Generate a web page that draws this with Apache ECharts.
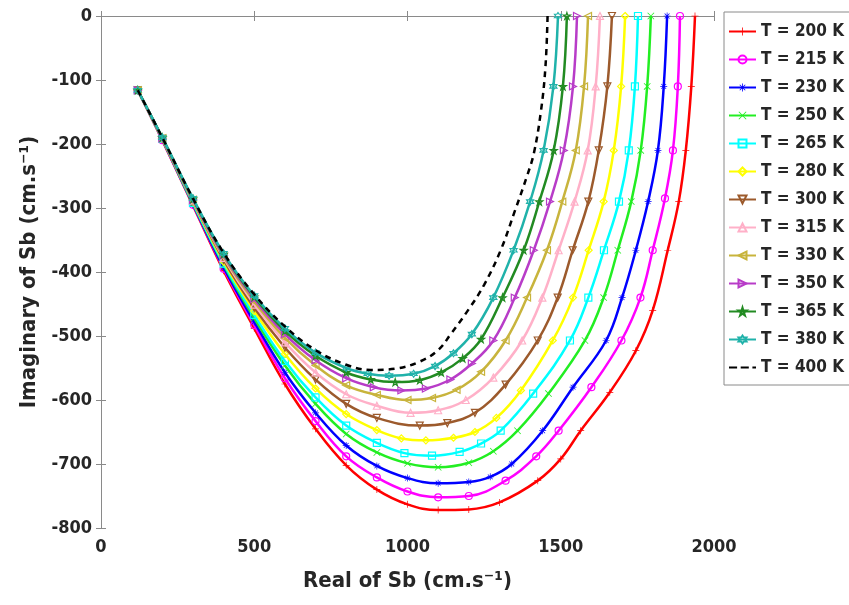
<!DOCTYPE html>
<html><head><meta charset="utf-8">
<script src="https://cdn.jsdelivr.net/npm/echarts@6/dist/echarts.min.js"></script>
<style>html,body{margin:0;padding:0;background:#fff}#c{width:849px;height:605px}</style>
</head><body><div id="c"></div>
<script>
// ---- data ----
const seriesNames = ['T = 200 K','T = 215 K','T = 230 K','T = 250 K','T = 265 K','T = 280 K','T = 300 K','T = 315 K','T = 330 K','T = 350 K','T = 365 K','T = 380 K','T = 400 K'];
const xTicks = [0, 500, 1000, 1500, 2000];
const yTicks = [0, -100, -200, -300, -400, -500, -600, -700, -800];

const t200 = [[120,-116],[200,-194],[300,-296],[400,-398],[500,-488],[600,-575],[700,-645],[800,-702],[900,-740],[1000,-763],[1100,-772],[1200,-771],[1300,-760],[1425,-726],[1500,-692],[1565,-648],[1660,-588],[1745,-523],[1800,-460],[1849,-366],[1885,-290],[1908,-210],[1926,-110],[1938,0]];
const t215 = [[120,-116],[200,-194],[300,-295],[400,-395],[500,-483],[600,-566],[700,-633],[800,-688],[900,-721],[1000,-743],[1100,-752],[1200,-750],[1320,-726],[1420,-688],[1493,-648],[1600,-580],[1698,-507],[1760,-440],[1800,-366],[1840,-285],[1866,-210],[1882,-110],[1889,0]];
const t230 = [[120,-116],[200,-193],[300,-294],[400,-393],[500,-478],[600,-557],[700,-620],[800,-671],[900,-703],[1000,-722],[1100,-730],[1200,-728],[1270,-720],[1340,-700],[1441,-648],[1540,-580],[1648,-507],[1700,-440],[1745,-366],[1785,-290],[1817,-210],[1836,-110],[1847,0]];
const t250 = [[120,-116],[200,-193],[300,-293],[400,-389],[500,-472],[600,-546],[700,-606],[800,-653],[900,-682],[1000,-699],[1100,-705],[1200,-698],[1280,-680],[1359,-648],[1460,-590],[1579,-507],[1640,-440],[1686,-366],[1730,-290],[1761,-210],[1782,-110],[1794,0]];
const t265 = [[120,-116],[200,-192],[300,-292],[400,-387],[500,-467],[600,-539],[700,-596],[800,-640],[900,-667],[990,-683],[1080,-687],[1170,-681],[1240,-668],[1304,-648],[1410,-590],[1530,-507],[1590,-440],[1641,-366],[1690,-290],[1722,-210],[1742,-110],[1752,0]];
const t280 = [[120,-116],[200,-192],[300,-290],[400,-384],[500,-461],[600,-528],[700,-582],[800,-622],[900,-647],[980,-660],[1060,-663],[1150,-659],[1220,-650],[1290,-628],[1370,-585],[1474,-507],[1540,-440],[1591,-366],[1640,-290],[1673,-210],[1697,-110],[1710,0]];
const t300 = [[120,-116],[200,-192],[300,-289],[400,-381],[500,-456],[600,-518],[700,-568],[800,-606],[900,-628],[1040,-640],[1130,-636],[1220,-620],[1320,-576],[1425,-507],[1490,-440],[1539,-366],[1590,-290],[1624,-210],[1652,-110],[1667,0]];
const t315 = [[120,-116],[200,-191],[300,-288],[400,-378],[500,-451],[600,-510],[700,-557],[800,-591],[900,-609],[1010,-620],[1100,-616],[1190,-600],[1280,-565],[1374,-507],[1440,-440],[1493,-366],[1545,-290],[1588,-210],[1614,-110],[1628,0]];
const t330 = [[120,-116],[200,-191],[300,-287],[400,-376],[500,-446],[600,-503],[700,-546],[800,-577],[900,-592],[1000,-600],[1080,-597],[1160,-584],[1240,-556],[1320,-507],[1390,-440],[1455,-366],[1505,-290],[1549,-210],[1576,-110],[1589,0]];
const t350 = [[120,-116],[200,-191],[300,-287],[400,-374],[500,-442],[600,-497],[700,-538],[800,-566],[890,-580],[980,-585],[1060,-582],[1140,-568],[1210,-543],[1280,-507],[1350,-440],[1412,-366],[1465,-290],[1510,-210],[1540,-110],[1553,0]];
const t365 = [[120,-116],[200,-190],[300,-286],[400,-372],[500,-439],[600,-492],[700,-531],[800,-557],[880,-568],[960,-572],[1040,-569],[1110,-557],[1180,-535],[1240,-505],[1310,-440],[1379,-366],[1430,-290],[1477,-210],[1507,-110],[1520,0]];
const t380 = [[120,-116],[200,-190],[300,-285],[400,-371],[500,-437],[600,-488],[700,-526],[800,-550],[870,-559],[940,-562],[1020,-559],[1090,-547],[1150,-527],[1210,-497],[1280,-440],[1346,-366],[1400,-290],[1444,-210],[1476,-110],[1491,0]];
const t400 = [[120,-116],[200,-190],[300,-285],[400,-370],[500,-435],[600,-485],[700,-522],[800,-545],[880,-553],[960,-551],[1040,-540],[1100,-522],[1141,-497],[1200,-458],[1250,-420],[1304,-366],[1350,-305],[1390,-250],[1412,-215],[1435,-150],[1450,-80],[1457,0]];
const allData = [t200,t215,t230,t250,t265,t280,t300,t315,t330,t350,t365,t380,t400];

// ---- styles ----
const colors = ['#ff0000','#ff00ff','#0000ff','#22ee22','#00ffff','#ffff00','#9c5a2c','#ffb0c8','#c8b43c','#b83cc8','#228b22','#20b2aa','#000000'];
const P = {
  plus: 'path://M0,4.5H10V5.5H0Z M4.5,0H5.5V10H4.5Z',
  star: 'path://M0,4.5H10V5.5H0Z M4.5,0H5.5V10H4.5Z M1.2,1.9L1.9,1.2L8.8,8.1L8.1,8.8Z M8.1,1.2L8.8,1.9L1.9,8.8L1.2,8.1Z',
  x: 'path://M0.5,1.2L1.2,0.5L9.5,8.8L8.8,9.5Z M8.8,0.5L9.5,1.2L1.2,9.5L0.5,8.8Z',
  down: 'path://M0,0L10,0L5,9Z',
  left: 'path://M9,0L9,10L0,5Z',
  right: 'path://M0,0L0,10L9,5Z',
  penta: 'path://M5,0L6.12,3.45L9.76,3.45L6.82,5.59L7.94,9.05L5,6.91L2.06,9.05L3.18,5.59L0.24,3.45L3.88,3.45Z',
  hexa: 'path://M5,0L6.44,2.5L9.33,2.5L7.89,5L9.33,7.5L6.44,7.5L5,10L3.56,7.5L0.67,7.5L2.11,5L0.67,2.5L3.56,2.5Z',
  dash: 'path://M0,4H9V6H0Z M13,4H22V6H13Z M26,4H30V6H26Z'
};
// [symbol, filled?]
const marks = [[P.plus,true],['circle',false],[P.star,true],[P.x,true],['rect',false],['diamond',false],[P.down,false],['triangle',false],[P.left,false],[P.right,false],[P.penta,false],[P.hexa,false],['none',false]];

const FF = "'DejaVu Sans','Liberation Sans',sans-serif";
const FW = 'bold condensed';
const txt = '#262626';
const axisGray = '#8a8a8a';

const series = allData.map((d, i) => {
  const c = colors[i];
  const isLast = i === allData.length - 1;
  const m = marks[i];
  return {
    name: seriesNames[i],
    type: 'line',
    data: d,
    smooth: 0.4,
    color: c,
    symbol: m[0],
    symbolSize: 7,
    showSymbol: !isLast,
    clip: false,
    lineStyle: isLast ? {color: c, width: 2.5, type: [6, 5]} : {color: c, width: 2.5},
    itemStyle: m[1] ? {color: c, borderWidth: 0} : {color: 'rgba(255,255,255,0)', borderColor: c, borderWidth: 1.2},
    z: 2 + i
  };
});

const legendData = seriesNames.map((n, i) => i === seriesNames.length - 1
  ? {name: n, icon: P.dash, itemStyle: {color: '#000', borderWidth: 0}}
  : {name: n});

const chart = echarts.init(document.getElementById('c'), null, {renderer: 'canvas'});
chart.setOption({
  animation: false,
  backgroundColor: '#fff',
  grid: {left: 101, top: 16, right: 135, bottom: 77, containLabel: false},
  legend: {
    orient: 'vertical', left: 724, top: 12,
    padding: [11, 10, 9, 4],
    itemWidth: 27, itemHeight: 10, itemGap: 11,
    backgroundColor: '#fff', borderColor: '#8a8a8a', borderWidth: 1, borderRadius: 0,
    textStyle: {fontFamily: FF, fontWeight: FW, fontSize: 17, color: txt},
    data: legendData
  },
  xAxis: [{
    type: 'value', min: xTicks[0], max: xTicks[xTicks.length-1], interval: 500,
    name: 'Real of Sb (cm.s\u207B\u00B9)', nameLocation: 'middle', nameGap: 42,
    nameTextStyle: {fontFamily: FF, fontWeight: FW, fontSize: 22, color: txt},
    axisLine: {lineStyle: {color: axisGray, width: 1}},
    axisTick: {inside: true, length: 5, lineStyle: {color: axisGray}},
    axisLabel: {fontFamily: FF, fontWeight: FW, fontSize: 18, color: txt, margin: 10, formatter: v => String(v)},
    splitLine: {show: false}
  }, {
    type: 'value', position: 'top', min: xTicks[0], max: xTicks[xTicks.length-1], interval: 500,
    axisLine: {show: true, lineStyle: {color: axisGray, width: 1}},
    axisTick: {show: true, inside: true, length: 5, lineStyle: {color: axisGray}},
    axisLabel: {show: false}, splitLine: {show: false}
  }],
  yAxis: [{
    type: 'value', min: yTicks[yTicks.length-1], max: yTicks[0], interval: 100,
    name: 'Imaginary of Sb (cm.s\u207B\u00B9)', nameLocation: 'middle', nameGap: 42, nameRotate: 90,
    nameTextStyle: {fontFamily: FF, fontWeight: FW, fontSize: 22, color: txt},
    axisLine: {show: true, lineStyle: {color: axisGray, width: 1}},
    axisTick: {show: true, inside: true, length: 5, lineStyle: {color: axisGray}},
    axisLabel: {fontFamily: FF, fontWeight: FW, fontSize: 18, color: txt, margin: 9, formatter: v => String(v)},
    splitLine: {show: false}
  }, {
    type: 'value', position: 'right', min: yTicks[yTicks.length-1], max: yTicks[0], interval: 100,
    axisLine: {show: true, lineStyle: {color: axisGray, width: 1}},
    axisTick: {show: true, inside: true, length: 5, lineStyle: {color: axisGray}},
    axisLabel: {show: false}, splitLine: {show: false}
  }],
  series: series
});
</script></body></html>
